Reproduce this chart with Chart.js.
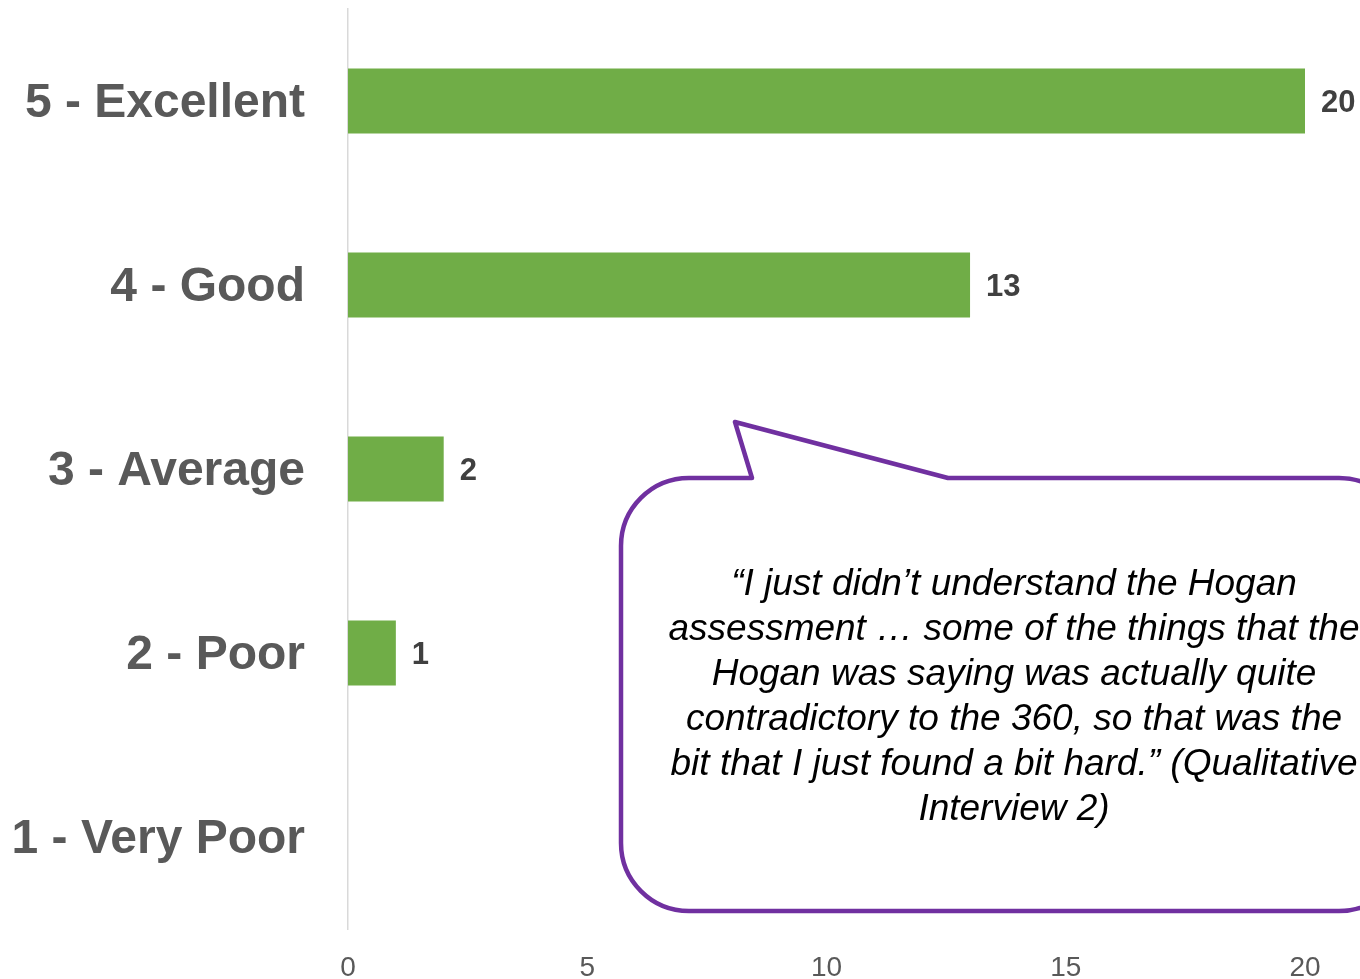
<!DOCTYPE html>
<html>
<head>
<meta charset="utf-8">
<script src="https://cdn.jsdelivr.net/npm/chart.js@4/dist/chart.umd.min.js"></script>
<style>
  html, body { margin: 0; padding: 0; background: #fff; }
  #wrap { width: 1360px; height: 979px; position: relative; overflow: hidden; }
</style>
</head>
<body>
<div id="wrap"><canvas id="chart"></canvas></div>
<script>
const categories = ['5 - Excellent', '4 - Good', '3 - Average', '2 - Poor', '1 - Very Poor'];
const counts = [20, 13, 2, 1, 0];
const xTicks = [0, 5, 10, 15, 20];

const quoteLines = [
    '\u201cI just didn\u2019t understand the Hogan',
    'assessment \u2026 some of the things that the',
    'Hogan was saying was actually quite',
    'contradictory to the 360, so that was the',
    'bit that I just found a bit hard.\u201d (Qualitative',
    'Interview 2)'
];

const FONT = '"Liberation Sans", Arial, sans-serif';

// value labels at the end of each bar
const valueLabels = {
    id: 'valueLabels',
    afterDatasetsDraw(chart) {
        const ctx = chart.ctx;
        const meta = chart.getDatasetMeta(0);
        ctx.save();
        ctx.font = 'bold 31px ' + FONT;
        ctx.fillStyle = '#404040';
        ctx.textAlign = 'left';
        ctx.textBaseline = 'middle';
        meta.data.forEach((bar, i) => {
            if (!counts[i]) return;
            ctx.fillText(String(counts[i]), bar.x + 16, bar.y + 2);
        });
        ctx.restore();
    }
};

// speech bubble with the interview quote
const quoteBubble = {
    id: 'quoteBubble',
    afterDraw(chart) {
        const ctx = chart.ctx;
        const left = 621, top = 478, right = 1407, bottom = 911, r = 68;
        ctx.save();
        ctx.beginPath();
        ctx.moveTo(752, top);
        ctx.lineTo(735, 422);
        ctx.lineTo(948, top);
        ctx.lineTo(right - r, top);
        ctx.arcTo(right, top, right, top + r, r);
        ctx.lineTo(right, bottom - r);
        ctx.arcTo(right, bottom, right - r, bottom, r);
        ctx.lineTo(left + r, bottom);
        ctx.arcTo(left, bottom, left, bottom - r, r);
        ctx.lineTo(left, top + r);
        ctx.arcTo(left, top, left + r, top, r);
        ctx.closePath();
        ctx.fillStyle = '#ffffff';
        ctx.fill();
        ctx.lineWidth = 4.5;
        ctx.lineJoin = 'round';
        ctx.strokeStyle = '#7030A0';
        ctx.stroke();

        ctx.font = 'italic 37px ' + FONT;
        ctx.fillStyle = '#000000';
        ctx.textAlign = 'center';
        ctx.textBaseline = 'middle';
        quoteLines.forEach((line, i) => {
            ctx.fillText(line, 1014, 585 + i * 45);
        });
        ctx.restore();
    }
};

const data = {
    labels: categories,
    datasets: [{
        data: counts,
        backgroundColor: '#70AD47',
        borderWidth: 0,
        categoryPercentage: 1,
        barPercentage: 0.353
    }]
};

const config = {
    type: 'bar',
    data: data,
    options: {
        indexAxis: 'y',
        responsive: true,
        maintainAspectRatio: false,
        animation: false,
        layout: { padding: { top: 9, right: 55, bottom: 0, left: 0 } },
        plugins: {
            legend: { display: false },
            tooltip: { enabled: false }
        },
        scales: {
            x: {
                min: 0,
                max: 20,
                afterBuildTicks: axis => { axis.ticks = xTicks.map(v => ({ value: v })); },
                afterFit: axis => {
                    axis.height = 50;
                    axis.paddingLeft = 0;
                    axis.paddingRight = 0;
                },
                grid: { display: false, drawTicks: false },
                border: { display: false },
                ticks: {
                    padding: 22,
                    color: '#595959',
                    font: { family: FONT, size: 28 }
                }
            },
            y: {
                afterFit: axis => {
                    axis.width = 348;
                    axis.paddingTop = 0;
                    axis.paddingBottom = 0;
                },
                grid: { display: false, drawTicks: false },
                border: { display: true, color: '#D9D9D9', width: 1.5 },
                ticks: {
                    padding: 43,
                    labelOffset: 3,
                    color: '#595959',
                    font: { family: FONT, size: 48, weight: 'bold' }
                }
            }
        }
    },
    plugins: [valueLabels, quoteBubble]
};

const myChart = new Chart(document.getElementById('chart'), config);
</script>
</body>
</html>
